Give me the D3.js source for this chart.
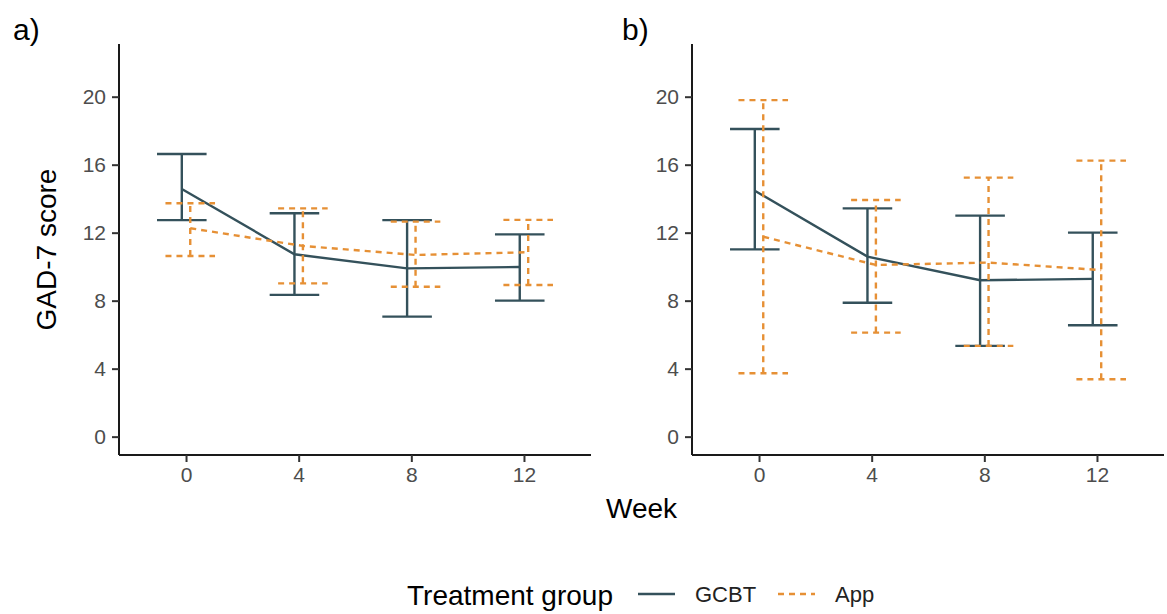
<!DOCTYPE html>
<html><head><meta charset="utf-8">
<script src="https://cdn.jsdelivr.net/npm/d3@7"></script>
<style>body{margin:0;background:#fff;} svg{display:block;font-family:"Liberation Sans",Arial,sans-serif;}</style>
</head><body><svg id="c" width="1167" height="614"></svg>
<script>
const weeks = [0, 4, 8, 12];
const groups = ["GCBT", "App"];
const xTicks = [0, 4, 8, 12];
const yTicks = [0, 4, 8, 12, 16, 20];
// Panel a
const aGcbtMean = [14.57, 10.73, 9.90, 9.98];
const aGcbtLow  = [12.74, 8.34, 7.06, 8.00];
const aGcbtHigh = [16.63, 13.14, 12.74, 11.90];
const aAppMean  = [12.26, 11.22, 10.69, 10.85];
const aAppLow   = [10.63, 9.02, 8.82, 8.92];
const aAppHigh  = [13.73, 13.43, 12.65, 12.75];
// Panel b
const bGcbtMean = [14.47, 10.59, 9.20, 9.28];
const bGcbtLow  = [11.02, 7.88, 5.34, 6.55];
const bGcbtHigh = [18.10, 13.43, 13.00, 12.00];
const bAppMean  = [11.76, 10.10, 10.24, 9.80];
const bAppLow   = [3.73, 6.12, 5.34, 3.38];
const bAppHigh  = [19.80, 13.92, 15.24, 16.24];

const colors = {GCBT: "#34515b", App: "#e69035"};
const dashes = {GCBT: null, App: "6,5"};
const dodge = {GCBT: -0.15, App: 0.15};
const capHalf = 0.88;

const svg = d3.select("#c");
const yScale = d3.scaleLinear().domain([-1.08, 23.1]).range([455, 44]);

const panels = [
  {tag: "a)", tagX: 13, left: 119, right: 591,
   series: {GCBT: [aGcbtMean, aGcbtLow, aGcbtHigh], App: [aAppMean, aAppLow, aAppHigh]}},
  {tag: "b)", tagX: 622, left: 692, right: 1164,
   series: {GCBT: [bGcbtMean, bGcbtLow, bGcbtHigh], App: [bAppMean, bAppLow, bAppHigh]}}
];

panels.forEach(p => {
  const x = d3.scaleLinear().domain([-2.38, 14.38]).range([p.left, p.right]);
  const g = svg.append("g");
  // axes
  const xa = g.append("g").attr("transform", `translate(0,455)`)
    .call(d3.axisBottom(x).tickValues(xTicks).tickSize(7).tickPadding(5).tickSizeOuter(0));
  const ya = g.append("g").attr("transform", `translate(${p.left},0)`)
    .call(d3.axisLeft(yScale).tickValues(yTicks).tickSize(7).tickPadding(6).tickSizeOuter(0));
  [xa, ya].forEach(a => {
    a.select(".domain").attr("stroke", "#1a1a1a").attr("stroke-width", 2);
    a.selectAll(".tick line").attr("stroke", "#333").attr("stroke-width", 2);
    a.selectAll(".tick text").attr("fill", "#4d4d4d").style("font-size", "21px").attr("font-family", "Liberation Sans, Arial, sans-serif");
  });
  // make domain lines span full
  xa.select(".domain").attr("d", `M${p.left},0H${p.right}`);
  ya.select(".domain").attr("d", `M0,${yScale.range()[0]}V${yScale.range()[1]}`);

  groups.forEach(gr => {
    const [m, lo, hi] = p.series[gr];
    const data = weeks.map((w, i) => ({w: w + dodge[gr], m: m[i], lo: lo[i], hi: hi[i]}));
    const sg = g.append("g").attr("stroke", colors[gr]).attr("stroke-width", 2.4).attr("fill", "none");
    if (dashes[gr]) sg.attr("stroke-dasharray", dashes[gr]);
    sg.append("path").attr("d", d3.line().x(d => x(d.w)).y(d => yScale(d.m))(data));
    data.forEach(d => {
      sg.append("line").attr("x1", x(d.w)).attr("x2", x(d.w)).attr("y1", yScale(d.lo)).attr("y2", yScale(d.hi));
      sg.append("line").attr("x1", x(d.w - capHalf)).attr("x2", x(d.w + capHalf)).attr("y1", yScale(d.lo)).attr("y2", yScale(d.lo));
      sg.append("line").attr("x1", x(d.w - capHalf)).attr("x2", x(d.w + capHalf)).attr("y1", yScale(d.hi)).attr("y2", yScale(d.hi));
    });
  });

  svg.append("text").attr("x", p.tagX).attr("y", 40).text(p.tag)
    .style("font-size", "30px").attr("fill", "#000");
});

// axis titles
svg.append("text").attr("x", 641.5).attr("y", 518).attr("text-anchor", "middle")
  .style("font-size", "28px").attr("fill", "#000").text("Week");
svg.append("text").attr("transform", "translate(56,249.5) rotate(-90)").attr("text-anchor", "middle")
  .style("font-size", "28px").attr("fill", "#000").text("GAD-7 score");

// legend
const leg = svg.append("g");
leg.append("text").attr("x", 407).attr("y", 605).style("font-size", "28px").attr("fill", "#000").text("Treatment group");
const legItems = [{g: "GCBT", x1: 638, x2: 675, tx: 695}, {g: "App", x1: 778, x2: 815, tx: 835}];
legItems.forEach(it => {
  const l = leg.append("line").attr("x1", it.x1).attr("x2", it.x2).attr("y1", 594).attr("y2", 594)
    .attr("stroke", colors[it.g]).attr("stroke-width", 2.4);
  if (dashes[it.g]) l.attr("stroke-dasharray", dashes[it.g]);
  leg.append("text").attr("x", it.tx).attr("y", 602).style("font-size", "22px").attr("fill", "#222").text(it.g);
});
</script></body></html>
